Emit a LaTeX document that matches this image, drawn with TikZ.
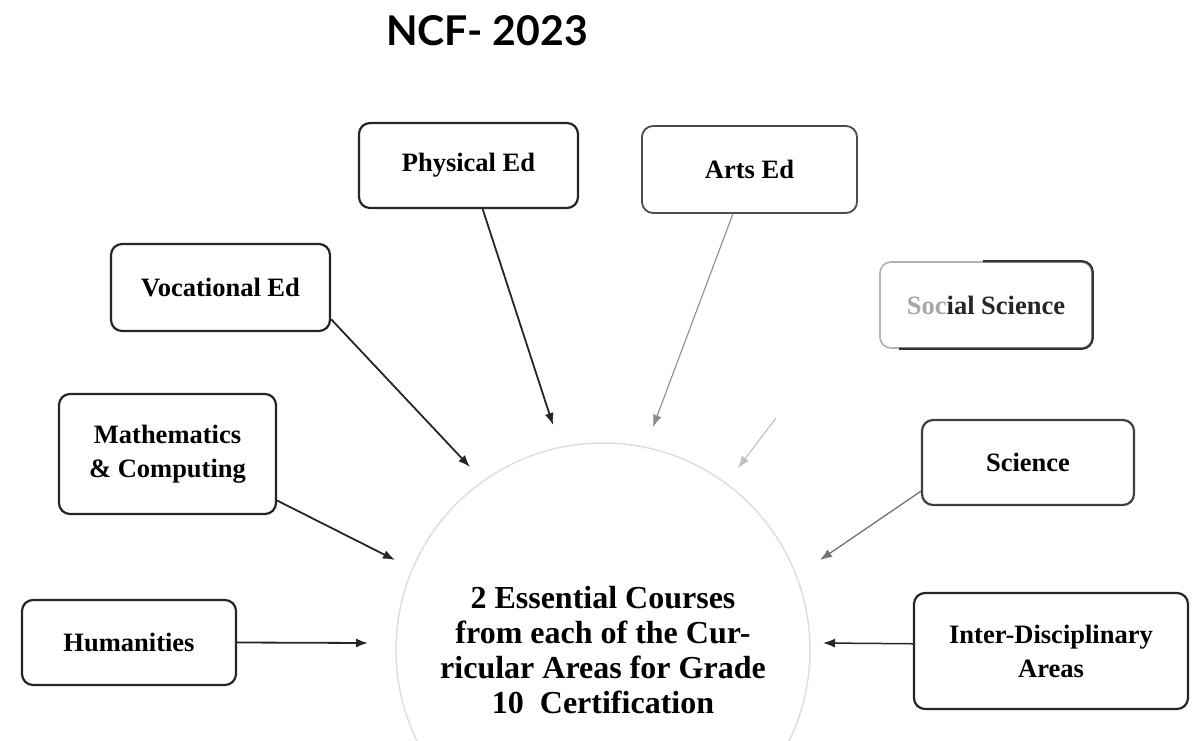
\documentclass[tikz,border=0pt]{standalone}
\usepackage{fontspec}
\setmainfont{Liberation Serif}
\newfontfamily\titlefont{Lato}
\usetikzlibrary{arrows.meta,calc}

\begin{document}
\begin{tikzpicture}[x=1pt,y=-1pt,
  area/.style={draw=black!85, line width=2.2pt, rounded corners=11pt, align=center,
    font=\bfseries\fontsize{26.5}{34}\selectfont, inner sep=0pt},
  link/.style={-{Latex[length=12pt,width=9pt]}, line width=1.8pt, draw=black!85},
  softlink/.style={link, draw=black!45, line width=1.1pt},
]
\path[use as bounding box] (0,0) rectangle (1195,741);
\clip (0,0) rectangle (1195,741);

% title
\node[font=\titlefont\bfseries\fontsize{41}{43}\selectfont] (title) at (487,31) {NCF- 2023};

% central area
\node[circle, draw=black!13, line width=1.5pt, minimum size=414pt, inner sep=0pt, align=center,
  font=\bfseries\fontsize{32}{35}\selectfont] (core) at (603,650)
  {2 Essential Courses\\from each of the Cur-\\ricular Areas for Grade\\10\ \ Certification};

% curricular areas
\node[area, minimum width=219pt, minimum height=85pt] (phys) at (468.5,165.5) {Physical Ed};
\node[area, draw=black!70, line width=1.8pt, minimum width=215pt, minimum height=87pt] (arts) at (749.5,169.5) {Arts Ed};
\node[area, minimum width=219pt, minimum height=87pt] (voc) at (220.5,287.5) {Vocational Ed};
\node[area, draw=black!30, line width=1.6pt, minimum width=212pt, minimum height=86pt, text=black!85] (soc) at (986,305)
  {{\color{black!35}Soc}ial Science};
\draw[line width=2.2pt, black!80, rounded corners=11pt]
  ([xshift=-110pt]soc.north east) -- (soc.north east) -- (soc.south east) -- ([xshift=20pt]soc.south west);
\node[area, minimum width=217pt, minimum height=120pt] (math) at (167.5,454) {Mathematics\\\& Computing};
\node[area, draw=black!75, minimum width=212pt, minimum height=85pt] (sci) at (1028,462.5) {Science};
\node[area, minimum width=214pt, minimum height=85pt] (hum) at (129,642.5) {Humanities};
\node[area, minimum width=274pt, minimum height=116pt] (inter) at (1051,651) {Inter-Disciplinary\\Areas};

% arrow tips near the central area
\coordinate (tPhys) at (553,425);
\coordinate (tArts) at (653,427);
\coordinate (tVoc) at (470,467);
\coordinate (tMath) at (395,560);
\coordinate (tHum) at (368,643);
\coordinate (sSoc) at (776,418);
\coordinate (tSoc) at (738,468);
\coordinate (tSci) at (820,560);
\coordinate (tInter) at (823,643);

\draw[link] (phys) -- (tPhys);
\draw[softlink] (arts) -- (tArts);
\draw[link] (voc.-16) -- (tVoc);
\draw[link] (math.-23) -- (tMath);
\draw[link] (hum.east) -- (tHum);
\draw[softlink, draw=black!25] (sSoc) -- (tSoc);
\draw[softlink, draw=black!55, line width=1.3pt] (sci.195.5) -- (tSci);
\draw[link, line width=1.5pt] (inter.177) -- (tInter);
\end{tikzpicture}
\end{document}
